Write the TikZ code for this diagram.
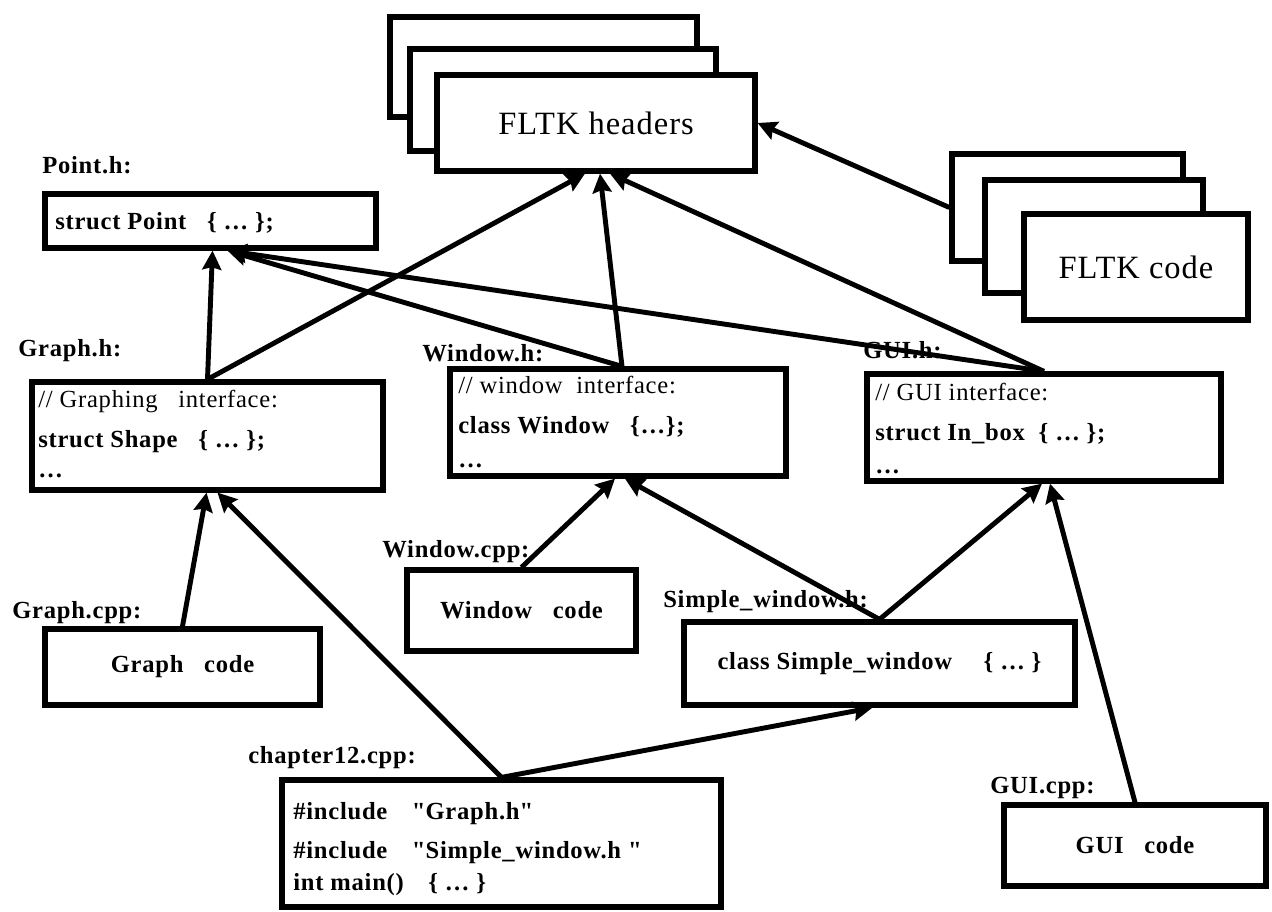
\documentclass[tikz,border=0pt]{standalone}
\usepackage{fontspec}
\setmainfont{Liberation Serif}[LetterSpace=3]
\usetikzlibrary{arrows.meta}
\usetikzlibrary{calc}

\begin{document}
\begin{tikzpicture}[x=0.02cm, y=-0.02cm,
  box/.style={draw, line width=3pt, fill=white, inner sep=0pt},
  lbl/.style={anchor=base west, inner sep=0pt, font=\fontsize{14}{16}\selectfont\bfseries},
  txt/.style={anchor=base west, inner sep=0pt, font=\fontsize{14}{16}\selectfont},
  codefont/.style={font=\fontsize{14}{16}\selectfont\bfseries},
  big/.style={font=\fontsize{18.5}{22}\selectfont},
  dep/.style={line width=2.8pt, -{Stealth[length=0.38cm, width=0.38cm, inset=0.05cm]}}]
\useasboundingbox (0,0) rectangle (1272,912);
\node[box, minimum width=6.14cm, minimum height=2cm] (hdrA) at (543.5,67) {};
\node[box, minimum width=6.12cm, minimum height=2.04cm] (hdrB) at (563,100) {};
\node[box, big, minimum width=6.36cm, minimum height=1.92cm] (hdr) at (596,123) {FLTK headers};
\node[box, minimum width=4.62cm, minimum height=2.14cm] (codeA) at (1067.5,207.5) {};
\node[box, minimum width=4.36cm, minimum height=2.26cm] (codeB) at (1094,236.5) {};
\node[box, big, minimum width=4.48cm, minimum height=2.12cm] (code) at (1136,267) {FLTK code};
\node[lbl] (pointlbl) at (42,174) {Point.h:};
\node[box, minimum width=6.62cm, minimum height=1.08cm] (point) at (210.5,221) {};
\node[lbl] (pointtxt) at (55,230) {struct Point\ \ \ \{ \ldots\ \};};
\node[lbl] (graphhlbl) at (18,357) {Graph.h:};
\node[box, minimum width=7.02cm, minimum height=2.16cm] (graphh) at (207.5,436) {};
\node[txt] (graphh1) at (38,407) {// Graphing\ \ \ interface:};
\node[lbl] (graphh2) at (38,447) {struct Shape\ \ \ \{ \ldots\ \};};
\node[lbl] (graphh3) at (38,478) {\ldots};
\node[lbl] (windowhlbl) at (422,361) {Window.h:};
\node[box, minimum width=6.72cm, minimum height=2.14cm] (windowh) at (618,422.5) {};
\node[txt] (windowh1) at (458,394) {// window\ \ interface:};
\node[lbl] (windowh2) at (458,434) {class Window\ \ \ \{\ldots\};};
\node[lbl] (windowh3) at (458,467) {\ldots};
\node[lbl] (guihlbl) at (863,358) {GUI.h:};
\node[box, minimum width=7.08cm, minimum height=2.14cm] (guih) at (1044,427.5) {};
\node[txt] (guih1) at (875,400) {// GUI\ interface:};
\node[lbl] (guih2) at (875,440) {struct In\_box\ \ \{ \ldots\ \};};
\node[lbl] (guih3) at (875,473) {\ldots};
\node[lbl] (windowcpplbl) at (382,557) {Window.cpp:};
\node[box, codefont, minimum width=4.58cm, minimum height=1.62cm] (windowcpp) at (521.5,610.5) {Window\ \ \ code};
\node[lbl] (simplelbl) at (663,607) {Simple\_window.h:};
\node[box, codefont, minimum width=7.82cm, minimum height=1.66cm] (simple) at (879.5,663.5) {class Simple\_window\quad\ \{ \ldots\ \}};
\node[lbl] (graphcpplbl) at (12,618) {Graph.cpp:};
\node[box, codefont, minimum width=5.5cm, minimum height=1.52cm] (graphcpp) at (182.5,667) {Graph\ \ \ code};
\node[lbl] (chlbl) at (248,763) {chapter12.cpp:};
\node[box, minimum width=8.78cm, minimum height=2.54cm] (ch) at (501.5,843.5) {};
\node[lbl] (ch1) at (293,819) {\#include\quad \textquotedbl Graph.h\textquotedbl};
\node[lbl] (ch2) at (293,858) {\#include\quad \textquotedbl Simple\_window.h \textquotedbl};
\node[lbl] (ch3) at (293,890) {int main()\quad \{ \ldots\ \}};
\node[lbl] (guicpplbl) at (990,793) {GUI.cpp:};
\node[box, codefont, minimum width=5.24cm, minimum height=1.62cm] (guicpp) at (1135,845.5) {GUI\ \ \ code};
\draw[dep] (graphh.north) -- ($(point.south)+(2,0)$);
\draw[dep] (graphh.north) -- ($(hdr.south)+(-11,0)$);
\draw[dep] ($(windowh.north)+(4,0)$) -- ($(point.south)+(17,0)$);
\draw[dep] ($(windowh.north)+(4,0)$) -- ($(hdr.south)+(4,0)$);
\draw[dep] (guih.north) -- ($(point.south)+(17,0)$);
\draw[dep] (guih.north) -- ($(hdr.south)+(14,0)$);
\draw[dep] (codeA.west) -- (hdr.east);
\draw[dep] (windowcpp.north) -- ($(windowh.south)+(-3,0)$);
\draw[dep] (simple.north) -- ($(windowh.south)+(7,0)$);
\draw[dep] (simple.north) -- ($(guih.south)+(-2,0)$);
\draw[dep] (guicpp.north) -- ($(guih.south)+(6,0)$);
\draw[dep] (graphcpp.north) -- ($(graphh.south)+(-1,0)$);
\draw[dep] (ch.north) -- ($(graphh.south)+(10,0)$);
\draw[dep] (ch.north) -- ($(simple.south)+(-7,0)$);
\end{tikzpicture}
\end{document}
